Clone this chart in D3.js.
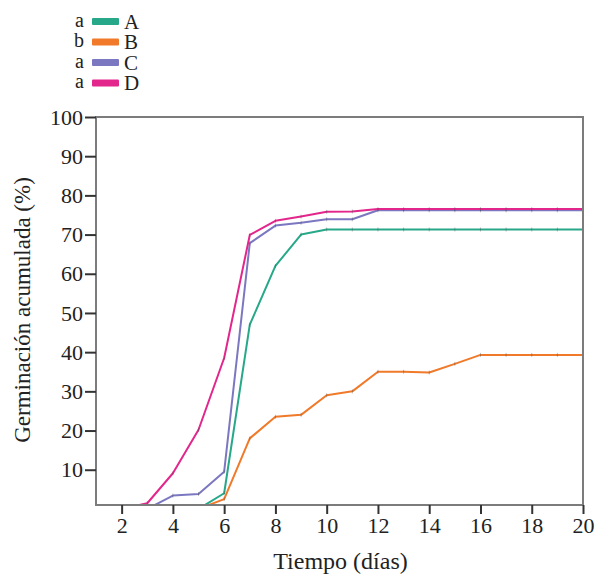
<!DOCTYPE html>
<html>
<head>
<meta charset="utf-8">
<script src="https://cdn.jsdelivr.net/npm/d3@7"></script>
<style>
  body { margin: 0; background: #fff; }
</style>
</head>
<body>
<div id="chart"></div>
<script>
const days = d3.range(1, 21);

// germinacion acumulada (%) por dia
const serieA = [0, 0, 0, 0, 0, 4, 47, 62, 70, 71.3, 71.3, 71.3, 71.3, 71.3, 71.3, 71.3, 71.3, 71.3, 71.3, 71.3];
const serieB = [0, 0, 0, 0, 0, 2.5, 18, 23.5, 24, 29, 30, 35, 35, 34.8, 37, 39.3, 39.3, 39.3, 39.3, 39.3];
const serieC = [0, 0, 0, 3.4, 3.8, 9.5, 67.8, 72.3, 73, 73.9, 73.9, 76.2, 76.2, 76.2, 76.2, 76.2, 76.2, 76.2, 76.2, 76.2];
const serieD = [0, 0, 1.45, 9.1, 20.2, 38.5, 69.9, 73.5, 74.6, 75.8, 75.9, 76.5, 76.5, 76.5, 76.5, 76.5, 76.5, 76.5, 76.5, 76.5];

const seriesNames = ["A", "B", "C", "D"];
const groupLetters = ["a", "b", "a", "a"];
const seriesValues = [serieA, serieB, serieC, serieD];
const xTicks = [2, 4, 6, 8, 10, 12, 14, 16, 18, 20];
const yTicks = [10, 20, 30, 40, 50, 60, 70, 80, 90, 100];

const colors = ["#27a889", "#f07a2a", "#7b77c0", "#e3268c"];
const serif = "'Liberation Serif', 'Times New Roman', 'DejaVu Serif', serif";

const width = 597;
const height = 575;
const margin = { top: 117, right: 14, bottom: 70, left: 96 };

const svg = d3.select("#chart")
    .append("svg")
    .attr("width", width)
    .attr("height", height)
    .attr("font-family", serif);

const x = d3.scaleLinear()
    .domain([1, 20])
    .range([margin.left, width - margin.right]);

const y = d3.scaleLinear()
    .domain([1, 100])
    .range([height - margin.bottom, margin.top]);

svg.append("clipPath")
    .attr("id", "clip")
    .append("rect")
    .attr("x", margin.left)
    .attr("y", margin.top)
    .attr("width", width - margin.left - margin.right)
    .attr("height", height - margin.top - margin.bottom);

// lineas
const line = d3.line()
    .x((d, i) => x(days[i]))
    .y(d => y(d));

const plot = svg.append("g").attr("clip-path", "url(#clip)");

seriesValues.forEach((vals, k) => {
    plot.append("path")
        .datum(vals)
        .attr("fill", "none")
        .attr("stroke", colors[k])
        .attr("stroke-width", 2)
        .attr("stroke-linejoin", "round")
        .attr("d", line);

    // pequeñas marcas en cada punto
    plot.selectAll(null)
        .data(vals)
        .enter()
        .append("line")
        .attr("x1", (d, i) => x(days[i]))
        .attr("x2", (d, i) => x(days[i]))
        .attr("y1", d => y(d) - 2)
        .attr("y2", d => y(d) + 2)
        .attr("stroke", "#444")
        .attr("stroke-opacity", 0.35)
        .attr("stroke-width", 1);
});

// marco
svg.append("rect")
    .attr("x", margin.left)
    .attr("y", margin.top)
    .attr("width", width - margin.left - margin.right)
    .attr("height", height - margin.top - margin.bottom)
    .attr("fill", "none")
    .attr("stroke", "#7c7c7c")
    .attr("stroke-width", 2);

// ejes
const xAxis = svg.append("g")
    .attr("transform", `translate(0,${height - margin.bottom})`)
    .call(d3.axisBottom(x).tickValues(xTicks).tickSize(9).tickPadding(3));

const yAxis = svg.append("g")
    .attr("transform", `translate(${margin.left},0)`)
    .call(d3.axisLeft(y).tickValues(yTicks).tickSize(11).tickPadding(2));

[xAxis, yAxis].forEach(g => {
    g.attr("font-family", serif).attr("font-size", 22);
    g.select(".domain").remove();
    g.selectAll(".tick line").attr("stroke", "#333").attr("stroke-width", 2);
    g.selectAll(".tick text").attr("fill", "#222");
});

// titulos de ejes
svg.append("text")
    .attr("x", (margin.left + width - margin.right) / 2 + 1)
    .attr("y", 569)
    .attr("text-anchor", "middle")
    .attr("font-size", 24)
    .attr("fill", "#222")
    .text("Tiempo (días)");

svg.append("text")
    .attr("transform", "translate(30,310) rotate(-90)")
    .attr("text-anchor", "middle")
    .attr("font-size", 23)
    .attr("fill", "#222")
    .text("Germinación acumulada (%)");

// leyenda
const legend = svg.append("g");
seriesNames.forEach((name, k) => {
    const cy = 21.5 + k * 20.5;
    legend.append("text")
        .attr("x", 84)
        .attr("y", cy + 5)
        .attr("text-anchor", "end")
        .attr("font-size", 20)
        .attr("fill", "#222")
        .text(groupLetters[k]);
    legend.append("rect")
        .attr("x", 92)
        .attr("y", cy - 3.5)
        .attr("width", 27)
        .attr("height", 7)
        .attr("rx", 1)
        .attr("fill", colors[k]);
    legend.append("text")
        .attr("x", 124)
        .attr("y", cy + 7)
        .attr("font-size", 21)
        .attr("fill", "#222")
        .text(name);
});
</script>
</body>
</html>
